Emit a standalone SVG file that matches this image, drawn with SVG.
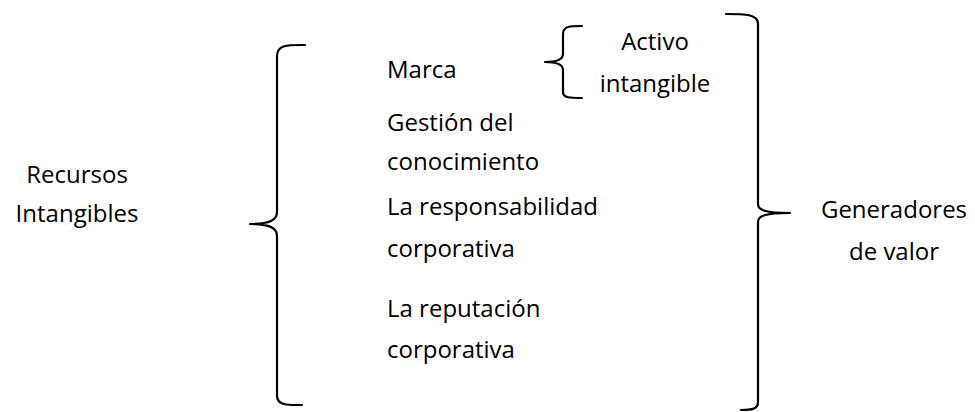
<svg xmlns="http://www.w3.org/2000/svg" width="975" height="412" viewBox="0 0 975 412">
<style>
.t{font-family:"Open Sans","Noto Sans","Liberation Sans",sans-serif;font-size:24px;fill:#000}
.c{text-anchor:middle}
.b{fill:none;stroke:#000;stroke-width:2.2;stroke-linecap:round;stroke-linejoin:round}
</style>
<rect width="975" height="412" fill="#fff"/>
<g id="connectors">
<path class="b" d="M305,45 C290,45 277,44 277,56 L277,212 C277,220 270,224 250,224 C270,224 277,228 277,236 L277,396 C277,406 290,405 302,405"/>
<path class="b" d="M726,14 C745,14 758,14 758,24 L758,204 C758,210 765,213 790,213 C765,213 758,216 758,222 L758,402 C758,409 752,410 741,410"/>
<path class="b" d="M582,26 C570,26 563,26 563,34 L563,54 C563,60 556,62 545,62 C556,62 563,64 563,70 L563,92 C563,98 570,98 582,98"/>
</g>
<g id="recursos"><text class="t c" x="77" y="183">Recursos</text><text class="t c" x="77" y="222">Intangibles</text></g>
<g id="marca"><text class="t" x="387" y="78">Marca</text></g>
<g id="activo"><text class="t c" x="655" y="50">Activo</text><text class="t c" x="655" y="92">intangible</text></g>
<g id="gestion"><text class="t" x="387" y="131">Gestión del</text><text class="t" x="387" y="170">conocimiento</text></g>
<g id="responsabilidad"><text class="t" x="387" y="215">La responsabilidad</text><text class="t" x="387" y="257">corporativa</text></g>
<g id="reputacion"><text class="t" x="387" y="317">La reputación</text><text class="t" x="387" y="358">corporativa</text></g>
<g id="generadores"><text class="t c" x="894" y="218">Generadores</text><text class="t c" x="894" y="260">de valor</text></g>
</svg>
